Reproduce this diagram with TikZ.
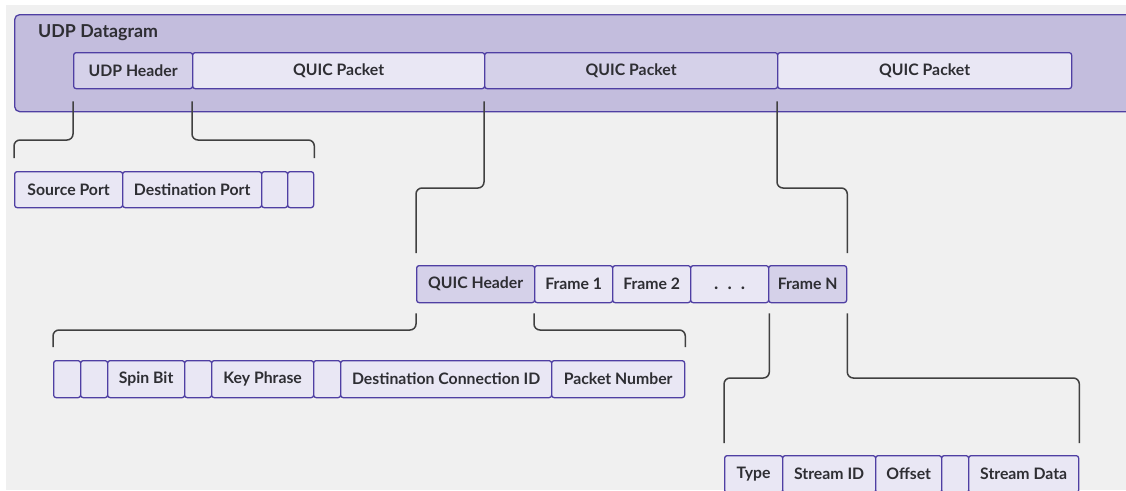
\documentclass[tikz,border=0pt]{standalone}
\usepackage{fontspec}
\setmainfont{Lato}
\usetikzlibrary{calc}
\definecolor{bgc}{HTML}{F0F0F0}
\definecolor{outerfill}{HTML}{C3BDDD}
\definecolor{strk}{HTML}{4F3FA3}
\definecolor{lightf}{HTML}{E9E7F4}
\definecolor{darkf}{HTML}{D5D1E9}
\definecolor{txt}{HTML}{2E2E33}
\definecolor{linec}{HTML}{404040}
\tikzset{
  fld/.style={draw=strk, line width=1.3pt, fill=lightf, rounded corners=2.5pt,
    anchor=north west, inner sep=0pt, text=txt,
    font=\fontsize{15.8}{18}\selectfont\bfseries},
  fldd/.style={fld, fill=darkf},
  conn/.style={draw=linec, line width=1.5pt, rounded corners=6pt},
}
\newcommand{\fbx}[7]{% style, name, x1, x2, y1, y2, text
  \pgfmathsetmacro{\bxw}{#4-#3}\pgfmathsetmacro{\bxh}{#6-#5}%
  \node[#1, minimum width=\bxw pt, minimum height=\bxh pt] (#2) at (#3,#5) {#7};}
\begin{document}
\begin{tikzpicture}[x=1pt,y=-1pt]
\useasboundingbox (0,0) rectangle (1126,490);
\clip (0,0) rectangle (1126,490);
\fill[white] (0,0) rectangle (1126,490);
\fill[bgc] (6,5) rectangle (1126,490);
% outer datagram
\node[draw=strk, line width=1.3pt, fill=outerfill, rounded corners=5pt, anchor=north west,
  minimum width=1130pt, minimum height=97pt, inner sep=0pt] (dgram) at (14,14) {};
\node[anchor=west, text=txt, font=\fontsize{17.8}{20}\selectfont\bfseries, inner sep=0pt] (dlabel) at (38,33) {UDP Datagram};
% row A
\fbx{fldd}{udph}{73}{192}{52}{88}{UDP Header}
\fbx{fld}{qp1}{192}{484}{52}{88}{QUIC Packet}
\fbx{fldd}{qp2}{484}{777}{52}{88}{QUIC Packet}
\fbx{fld}{qp3}{777}{1071}{52}{88}{QUIC Packet}
% row B
\fbx{fld}{srcp}{14}{122}{171}{207}{Source Port}
\fbx{fld}{dstp}{122}{261}{171}{207}{Destination Port}
\fbx{fld}{ub1}{261}{287}{171}{207}{}
\fbx{fld}{ub2}{287}{313}{171}{207}{}
% row C
\fbx{fldd}{qh}{416}{534}{265}{302}{QUIC Header}
\fbx{fld}{f1}{534}{612}{265}{302}{Frame 1}
\fbx{fld}{f2}{612}{690}{265}{302}{Frame 2}
\fbx{fld}{fdots}{690}{768}{265}{302}{\vphantom{Fr}{\fontsize{18}{18}\selectfont.\hspace{0.5em}.\hspace{0.5em}.}}
\fbx{fldd}{fn}{768}{846}{265}{302}{Frame N}
% row D
\fbx{fld}{h1}{53}{80}{360}{397}{}
\fbx{fld}{h2}{80}{107}{360}{397}{}
\fbx{fld}{spin}{107}{184}{360}{397}{Spin Bit}
\fbx{fld}{h3}{184}{211}{360}{397}{}
\fbx{fld}{key}{211}{313}{360}{397}{Key Phrase}
\fbx{fld}{h4}{313}{340}{360}{397}{}
\fbx{fld}{dcid}{340}{551}{360}{397}{Destination Connection ID}
\fbx{fld}{pn}{551}{684}{360}{397}{Packet Number}
% row E
\fbx{fld}{typ}{724}{782}{455}{492}{Type}
\fbx{fld}{sid}{782}{875}{455}{492}{Stream ID}
\fbx{fld}{off}{875}{941}{455}{492}{Offset}
\fbx{fld}{e1}{941}{968}{455}{492}{}
\fbx{fld}{sdata}{968}{1078}{455}{492}{Stream Data}
% connectors
\draw[conn] ($(udph.south west)+(0,12)$) |- ($(srcp.north west)+(0,-31)$) -- ($(srcp.north west)+(0,-13)$);
\draw[conn] ($(qp1.south west)+(0,12)$) |- ($(ub2.north east)+(0,-31)$) -- ($(ub2.north east)+(0,-13)$);
\draw[conn] ($(qp2.south west)+(0,12)$) |- ($(qh.north west)+(0,-77)$) -- ($(qh.north west)+(0,-12)$);
\draw[conn] ($(qp3.south west)+(0,12)$) |- ($(fn.north east)+(0,-77)$) -- ($(fn.north east)+(0,-12)$);
\draw[conn] ($(qh.south west)+(0,10)$) |- ($(h1.north west)+(0,-30)$) -- ($(h1.north west)+(0,-13)$);
\draw[conn] ($(f1.south west)+(0,10)$) |- ($(pn.north east)+(0,-30)$) -- ($(pn.north east)+(0,-13)$);
\draw[conn] ($(fdots.south east)+(0,10)$) |- ($(typ.north west)+(0,-77)$) -- ($(typ.north west)+(0,-12)$);
\draw[conn] ($(fn.south east)+(0,10)$) |- ($(sdata.north east)+(0,-77)$) -- ($(sdata.north east)+(0,-12)$);
\end{tikzpicture}
\end{document}
